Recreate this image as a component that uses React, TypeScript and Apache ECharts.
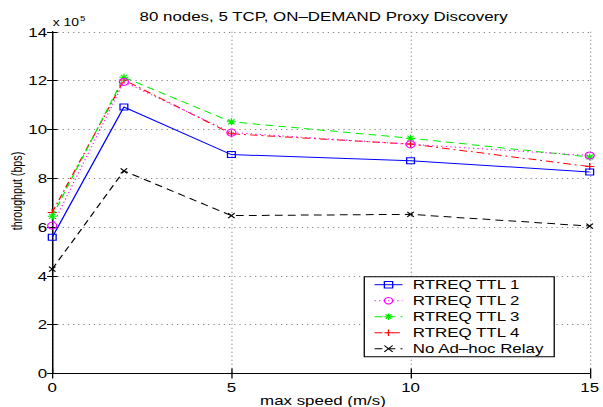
import React, { useEffect, useRef } from "react";
import * as echarts from "echarts";

// ---- data ----
const speeds = [0, 2, 5, 10, 15];
const ttl1 = [558000, 1092000, 897000, 872000, 826000];
const ttl2 = [606000, 1195000, 987000, 939000, 893000];
const ttl3 = [644000, 1214000, 1031000, 964000, 887000];
const ttl4 = [660000, 1203000, 982000, 940000, 848000];
const noRelay = [428000, 830000, 647000, 652000, 604000];
const seriesNames = ["RTREQ TTL 1", "RTREQ TTL 2", "RTREQ TTL 3", "RTREQ TTL 4", "No Ad–hoc Relay"];
const xTicks = [0, 5, 10, 15];
const yTicks = [0, 2, 4, 6, 8, 10, 12, 14];

const titleText = "80 nodes, 5 TCP, ON–DEMAND Proxy Discovery";
const xName = "max speed (m/s)";
const yName = "throughput (bps)";

// ---- layout (chart drawn in a 464px wide box then stretched to 603px) ----
const W = 464;
const H = 407;
const SX = 603 / W;
const FONT = '"Liberation Sans", Arial, Helvetica, sans-serif';

const SQUARE = "path://M0,0L10,0L10,10L0,10Z";
const STAR = "path://M5,0L5,10M0,5L10,5M1.5,1.5L8.5,8.5M8.5,1.5L1.5,8.5";
const PLUS = "path://M5,0L5,10M0,5L10,5";
const CROSS = "path://M0,0L10,10M10,0L0,10";

const styles = [
  { color: "#0000ff", symbol: SQUARE, size: 6, dash: "solid" as any },
  { color: "#ff00ff", symbol: "circle", size: 7, dash: [1, 2.5] },
  { color: "#00ee00", symbol: STAR, size: 7, dash: [6, 4] },
  { color: "#ff0000", symbol: PLUS, size: 7, dash: [6, 3, 1.5, 3] },
  { color: "#000000", symbol: CROSS, size: 5, dash: [6, 4] },
];
const values = [ttl1, ttl2, ttl3, ttl4, noRelay];

function buildOption(): any {
  const series = values.map((vals, k) => {
    const st = styles[k];
    return {
      name: seriesNames[k],
      type: "line",
      data: speeds.map((s, i) => [s, vals[i]]),
      symbol: st.symbol,
      symbolSize: st.size,
      showAllSymbol: true,
      lineStyle: { color: st.color, width: 1, type: st.dash },
      itemStyle: { color: "none", borderColor: st.color, borderWidth: 1 },
      emphasis: { disabled: true },
      z: 10 - k,
    };
  });
  const axisLine = { show: true, lineStyle: { color: "#000", width: 1 } };
  const split = { show: true, lineStyle: { color: "#8a8a8a", width: 1, type: [1, 3] } };
  return {
    animation: false,
    backgroundColor: "#fff",
    textStyle: { fontFamily: FONT },
    grid: { left: 40.2, right: 5.9, top: 31.8, bottom: 33.5, containLabel: false },
    xAxis: [
      {
        type: "value", min: 0, max: 15, interval: 5, position: "bottom",
        axisLine, axisTick: { show: true, inside: true, length: 5, lineStyle: { color: "#000" } },
        axisLabel: { show: true, color: "#000", fontSize: 13, fontFamily: FONT, margin: 7,
          formatter: (v: number) => (xTicks.includes(v) ? String(v) : "") },
        splitLine: split,
      },
      {
        type: "value", min: 0, max: 15, interval: 5, position: "top",
        axisLine, axisTick: { show: true, inside: true, length: 5, lineStyle: { color: "#000" } },
        axisLabel: { show: false }, splitLine: { show: false },
      },
    ],
    yAxis: [
      {
        type: "value", min: 0, max: 1400000, interval: 200000, position: "left",
        axisLine, axisTick: { show: true, inside: true, length: 4, lineStyle: { color: "#000" } },
        axisLabel: { show: true, color: "#000", fontSize: 13, fontFamily: FONT, margin: 4,
          formatter: (v: number) => { const t = Math.round(v / 100000); return yTicks.includes(t) ? String(t) : ""; } },
        splitLine: split,
      },
      {
        type: "value", min: 0, max: 1400000, interval: 200000, position: "right",
        axisLine, axisTick: { show: true, inside: true, length: 4, lineStyle: { color: "#000" } },
        axisLabel: { show: false }, splitLine: { show: false },
      },
    ],
    legend: {
      show: true,
      orient: "vertical",
      left: 280.3,
      top: 276.7,
      padding: [0, 7.6, 0, 7.4],
      itemGap: 0,
      itemWidth: 21.5,
      itemHeight: 8,
      backgroundColor: "#fff",
      borderColor: "#000",
      borderWidth: 1,
      borderRadius: 0,
      selectedMode: false,
      textStyle: { color: "#000", fontSize: 13, fontFamily: FONT, lineHeight: 16, padding: [0, 0, 0, 3] },
      data: seriesNames.map((n, k) => ({
        name: n,
        itemStyle: { color: "none", borderColor: styles[k].color, borderWidth: 1 },
        lineStyle: { color: styles[k].color, width: 1, type: styles[k].dash },
      })),
    },
    graphic: [
      { type: "text", x: 249, y: 16, silent: true,
        style: { text: titleText, fill: "#000", fontSize: 13, fontFamily: FONT, align: "center", verticalAlign: "middle" } },
      { type: "text", x: 248.5, y: 400, silent: true,
        style: { text: xName, fill: "#000", fontSize: 13, fontFamily: FONT, align: "center", verticalAlign: "middle" } },
      { type: "text", x: 13.1, y: 191, rotation: Math.PI / 2, silent: true,
        style: { text: yName, fill: "#000", fontSize: 10.7, fontFamily: FONT, align: "center", verticalAlign: "middle" } },
      { type: "text", x: 40.5, y: 22.2, silent: true,
        style: { text: "x 10", fill: "#000", fontSize: 10.7, fontFamily: FONT, align: "left", verticalAlign: "middle" } },
      { type: "text", x: 61.5, y: 18.9, silent: true,
        style: { text: "5", fill: "#000", fontSize: 7.5, fontFamily: FONT, align: "left", verticalAlign: "middle" } },
    ],
    series,
  };
}

export default function App() {
  const ref = useRef<HTMLDivElement>(null);
  useEffect(() => {
    if (!ref.current) return;
    const chart = echarts.init(ref.current, null, { renderer: "svg" });
    chart.setOption(buildOption());
    return () => chart.dispose();
  }, []);
  return (
    <div style={{ position: "absolute", left: 0, top: 0, width: 603, height: H, overflow: "hidden", background: "#fff" }}>
      <div
        ref={ref}
        style={{ width: W, height: H, transform: `scaleX(${SX})`, transformOrigin: "0 0" }}
      />
    </div>
  );
}
